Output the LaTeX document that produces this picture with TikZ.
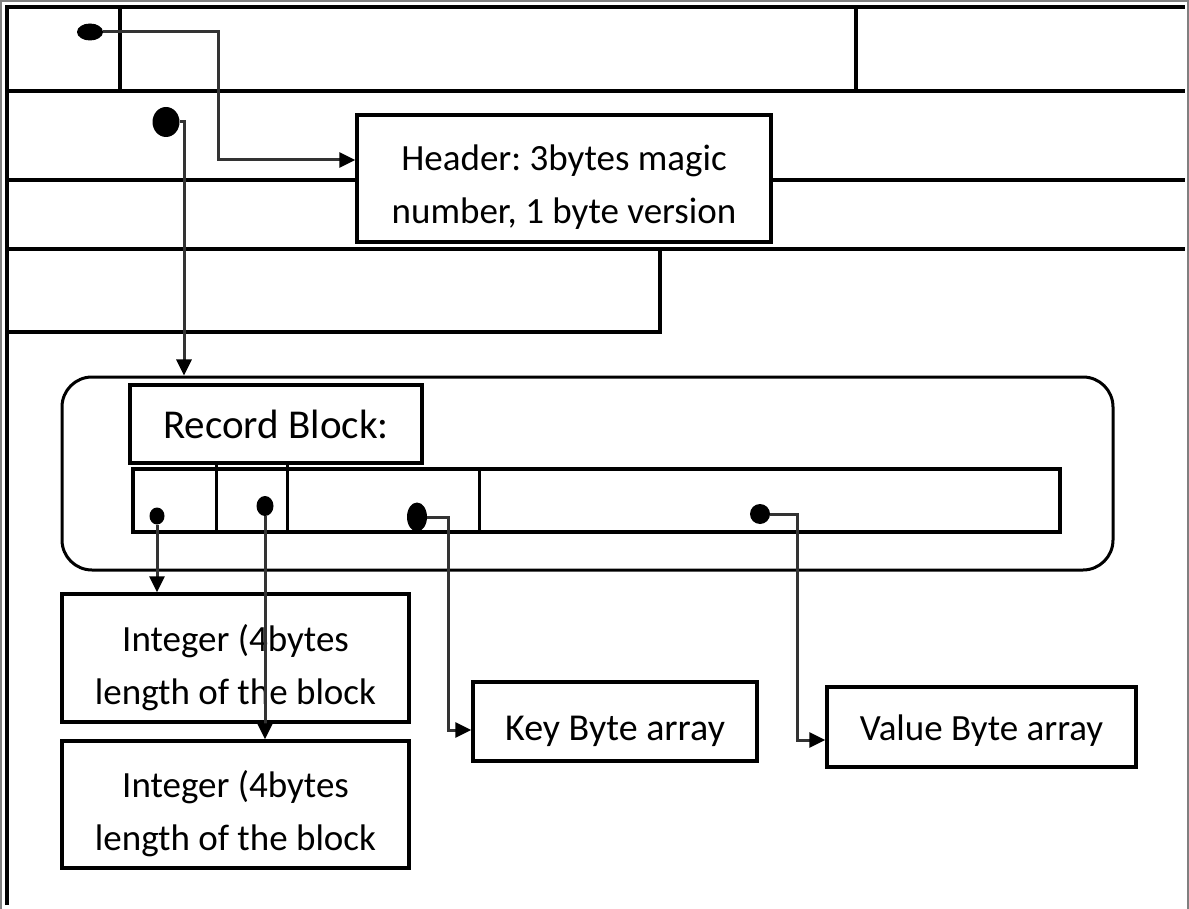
\documentclass[tikz,border=0pt]{standalone}
\usepackage{fontspec}
\setmainfont{Carlito}
\frenchspacing
\usetikzlibrary{arrows.meta, shapes.geometric, positioning, calc}

\tikzset{
  box/.style={draw, line width=3.5pt, fill=white, inner sep=0pt, align=center,
    font=\fontsize{37}{53}\selectfont},
  dot/.style={ellipse, fill=black, inner sep=0pt},
  grid/.style={line width=3.5pt},
  conn/.style={line width=3pt, draw=black!80, -{Triangle[length=16pt,width=15pt,color=black]}}
}

\begin{document}
\begin{tikzpicture}[x=1pt, y=-1pt]
  \useasboundingbox (0,0) rectangle (1189,909);
  \draw[gray, line width=2.5pt] (1,909) -- (1,1) -- (1188,1) -- (1188,909);
  \draw[grid] (7,905) -- (7,7) -- (1185,7);
  \draw[grid] (120,7) -- (120,91);
  \draw[grid] (856,7) -- (856,91);
  \draw[grid] (7,91) -- (1185,91);
  \draw[grid] (7,180) -- (1185,180);
  \draw[grid] (7,249) -- (1185,249);
  \draw[grid] (660,249) -- (660,332) -- (7,332);

  \node[box, minimum width=414pt, minimum height=127pt] (header) at (564,178.5)
    {\rule{0pt}{43pt}Header: 3bytes magic\\number, 1 byte version};

  \node[draw, line width=3pt, rounded corners=30pt, minimum width=1051pt,
    minimum height=193pt] (cont) at (587.5,473.5) {};
  \node[box, font=\fontsize{41}{48}\selectfont, minimum width=292pt,
    minimum height=78pt] (recblk) at (276,424) {Record Block:};
  \node[box, minimum width=927pt, minimum height=63pt] (row) at (596.5,500.5) {};
  \draw[line width=3pt] (216,463) -- (216,534);
  \draw[line width=3pt] (287,463) -- (287,534);
  \draw[line width=3pt] (479,469) -- (479,534);

  \node[dot, minimum width=26pt, minimum height=17pt] (d1) at (90,32) {};
  \node[dot, minimum width=27pt, minimum height=30pt] (d2) at (166,122) {};
  \node[dot, minimum width=15pt, minimum height=17pt] (d3) at (157,516) {};
  \node[dot, minimum width=17pt, minimum height=20pt] (d4) at (265,506) {};
  \node[dot, minimum width=20pt, minimum height=29pt] (d5) at (417,517) {};
  \node[dot, minimum width=20pt, minimum height=20pt] (d6) at (760,514) {};

  \node[box, minimum width=347pt, minimum height=128pt] (int1) at (235.5,658)
    {\rule{0pt}{46pt}Integer (4bytes\\length of the block};
  \node[box, minimum width=347pt, minimum height=127pt] (int2) at (235.5,804.5)
    {\rule{0pt}{46pt}Integer (4bytes\\length of the block};
  \node[box, font=\fontsize{38}{48}\selectfont, minimum width=284pt,
    minimum height=79pt] (key) at (615,721.5) {\rule{0pt}{44pt}Key Byte array};
  \node[box, minimum width=309pt, minimum height=80pt] (value) at (981.5,727)
    {\rule{0pt}{32pt}Value Byte array};

  \coordinate (b1) at (218,160);
  \coordinate (b2) at (184,125);
  \coordinate (b5) at (448,730);
  \coordinate (b6) at (797,740);
  \draw[conn] (d1.east) -| (b1) -- (b1 -| header.west);
  \draw[conn] (d2.east) -| (b2 |- cont.north);
  \draw[conn] (d3.south) -- (d3.south |- int1.north);
  \draw[conn] (d4.south) -- (d4.south |- int2.north);
  \draw[conn] (d5.east) -| (b5) -- (b5 -| key.west);
  \draw[conn] (d6.east) -| (b6) -- (b6 -| value.west);
\end{tikzpicture}
\end{document}
